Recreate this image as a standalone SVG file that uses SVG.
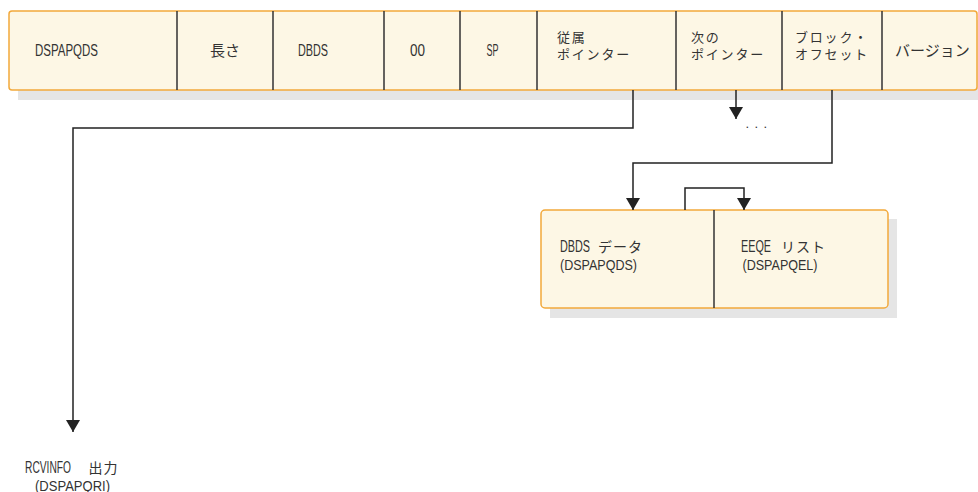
<svg xmlns="http://www.w3.org/2000/svg" width="978" height="492" viewBox="0 0 978 492">
<style>
.shadow{fill:#e5e5e5;stroke:none}
.box{fill:#fdf7e5;stroke:#f2a93b;stroke-width:1.5}
.div{stroke:#333;stroke-width:1.5;fill:none}
.conn{stroke:#222;stroke-width:1.5;fill:none}
text{font-family:"Liberation Sans","Noto Sans CJK JP",sans-serif;font-size:16px;fill:#333}
.jp{font-family:"Noto Sans CJK JP",sans-serif;font-size:15px}
.jp2{font-family:"Noto Sans CJK JP",sans-serif;font-size:13px;letter-spacing:1.8px}
.jp3{font-family:"Noto Sans CJK JP",sans-serif;font-size:14px;letter-spacing:1px}
.sub{font-size:15px}
</style>
<defs>
<marker id="arr" markerUnits="userSpaceOnUse" markerWidth="14" markerHeight="14" viewBox="0 -7 12 14" refX="12" refY="0" orient="auto">
<path d="M0,-7 L12,0 L0,7 z" fill="#222"/>
</marker>
</defs>
<g id="record">
<rect class="shadow" x="18" y="20" width="968" height="80"/>
<rect class="box" x="9" y="11" width="968" height="79" rx="3"/>
<path class="div" d="M177 11V90M273 11V90M384 11V90M460 11V90M537 11V90M676 11V90M782 11V90M882 11V90"/>
<text x="35" y="56" textLength="63" lengthAdjust="spacingAndGlyphs">DSPAPQDS</text>
<text class="jp" x="210" y="55.5">長さ</text>
<text x="298" y="56" textLength="30" lengthAdjust="spacingAndGlyphs">DBDS</text>
<text x="410" y="56" textLength="15" lengthAdjust="spacingAndGlyphs">00</text>
<text x="486.5" y="56" textLength="12" lengthAdjust="spacingAndGlyphs">SP</text>
<text class="jp2" x="557" y="42">従属<tspan x="557" y="59">ポインター</tspan></text>
<text class="jp2" x="691" y="42">次の<tspan x="691" y="59">ポインター</tspan></text>
<text class="jp2" x="795" y="42">ブロック・<tspan x="795" y="59">オフセット</tspan></text>
<text class="jp" x="895" y="55.5">バージョン</text>
</g>
<g id="dbds">
<rect class="shadow" x="550" y="219" width="347" height="99"/>
<rect class="box" x="541" y="210" width="347" height="98" rx="4"/>
<path class="div" d="M714 210V308"/>
<text x="560" y="251.5"><tspan textLength="30" lengthAdjust="spacingAndGlyphs">DBDS</tspan><tspan class="jp3" x="598">データ</tspan></text>
<text class="sub" x="560" y="269.5" textLength="77" lengthAdjust="spacingAndGlyphs">(DSPAPQDS)</text>
<text x="741" y="251.5"><tspan textLength="30" lengthAdjust="spacingAndGlyphs">EEQE</tspan><tspan class="jp3" x="781">リスト</tspan></text>
<text class="sub" x="742.5" y="269.5" textLength="75" lengthAdjust="spacingAndGlyphs">(DSPAPQEL)</text>
</g>
<g id="rcvinfo">
<text x="25" y="472.5"><tspan textLength="46" lengthAdjust="spacingAndGlyphs">RCVINFO</tspan><tspan class="jp3" x="88.5">出力</tspan></text>
<text class="sub" x="35" y="490.5" textLength="75" lengthAdjust="spacingAndGlyphs">(DSPAPQRI)</text>
</g>
<g id="ellipsis">
<text x="745.5" y="128" style="font-size:13px;letter-spacing:5.4px">...</text>
</g>
<g id="connectors">
<path class="conn" d="M633 90V128H73V432" marker-end="url(#arr)"/>
<path class="conn" d="M736 90V119" marker-end="url(#arr)"/>
<path class="conn" d="M832 90V163H633V210" marker-end="url(#arr)"/>
<path class="conn" d="M685 210V188H744V210" marker-end="url(#arr)"/>
</g>
</svg>
